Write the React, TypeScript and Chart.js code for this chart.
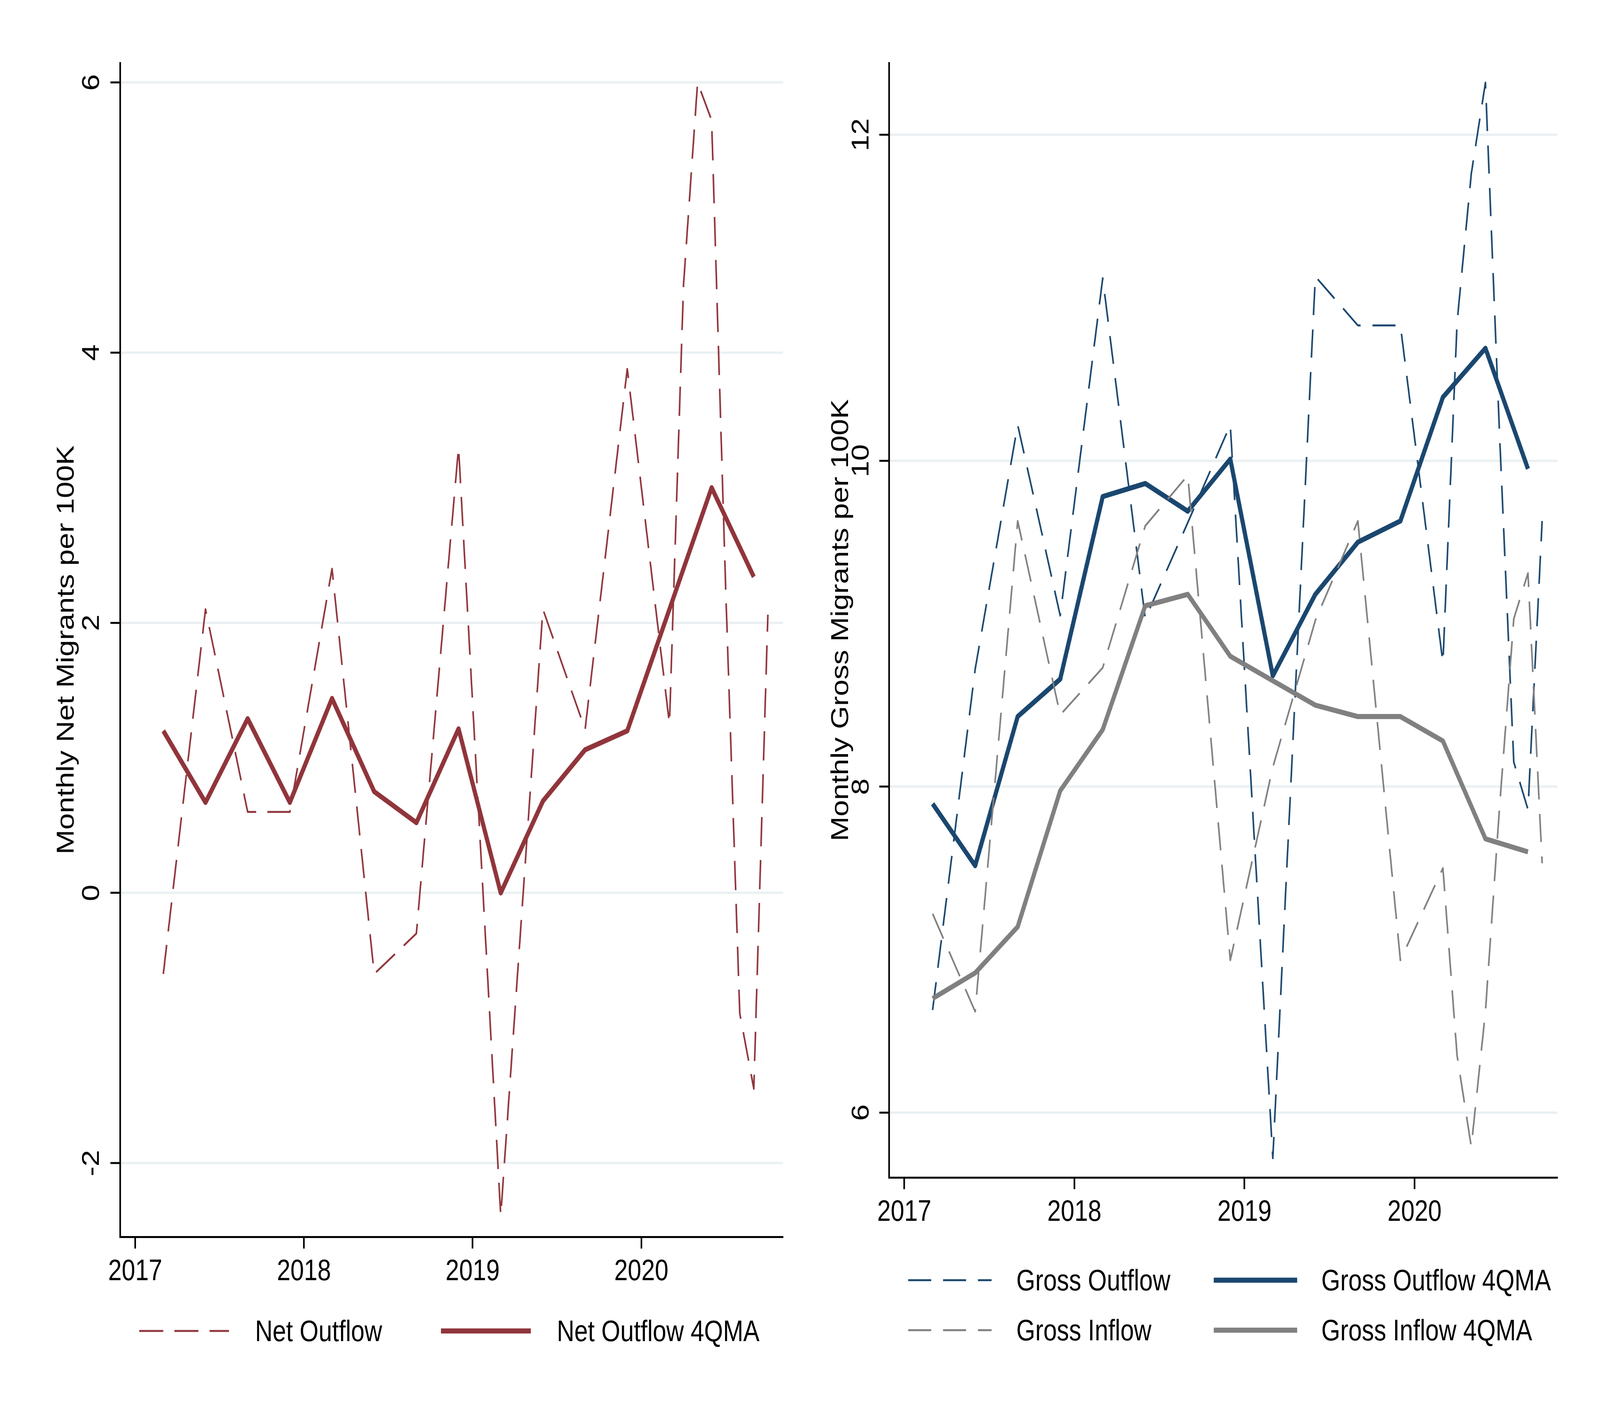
import React, { useEffect, useRef, useState } from 'react';
import { Chart, registerables } from 'chart.js';

Chart.register(...registerables);

// x positions are months since Jan 2017 (quarter ends, then monthly in 2020)
const obsMonths = [2, 5, 8, 11, 14, 17, 20, 23, 26, 29, 32, 35, 38, 39, 40, 41, 42, 43, 44, 45];
const maMonths = [2, 5, 8, 11, 14, 17, 20, 23, 26, 29, 32, 35, 38, 41, 44];

const yearTicks = [0, 12, 24, 36];
const yearLabels = ['2017', '2018', '2019', '2020'];

const netTicks = [-2, 0, 2, 4, 6];
const grossTicks = [6, 8, 10, 12];

const netOutflow = [-0.6, 2.1, 0.6, 0.6, 2.4, -0.6, -0.3, 3.3, -2.39, 2.1, 1.21, 3.88, 1.25, 4.5, 6.0, 5.72, 2.25, -0.89, -1.45, 2.06];
const netOutflow4qma = [1.2, 0.67, 1.29, 0.67, 1.44, 0.75, 0.52, 1.215, 0.0, 0.68, 1.06, 1.2, 2.1, 3.0, 2.34];

const grossOutflow = [6.63, 8.72, 10.22, 9.05, 11.12, 9.03, 9.62, 10.22, 5.72, 11.13, 10.83, 10.83, 8.76, 10.85, 11.76, 12.32, 10.15, 8.15, 7.86, 9.63];
const grossOutflow4qma = [7.895, 7.515, 8.43, 8.66, 9.78, 9.86, 9.69, 10.01, 8.68, 9.18, 9.5, 9.63, 10.39, 10.69, 9.95];

const grossInflow = [7.22, 6.62, 9.63, 8.44, 8.73, 9.6, 9.91, 6.935, 8.12, 9.02, 9.63, 6.935, 7.5, 6.35, 5.79, 6.62, 7.88, 9.03, 9.31, 7.53];
const grossInflow4qma = [6.7, 6.857, 7.14, 7.975, 8.35, 9.11, 9.18, 8.8, 8.65, 8.5, 8.43, 8.43, 8.28, 7.68, 7.6];

// everything is laid out on a 5000 x 3636 sheet, then the sheet is fitted to the window
const SHEET_W = 5000;
const SHEET_H = 3636;
const FONT = '"Liberation Sans", Arial, Helvetica, sans-serif';
const FONT_SIZE = 76;
const MAROON = '#90353b';
const NAVY = '#1a476f';
const GRAY = '#808080';
const GRID = '#eaf1f3';
const X_AXIS_H = 140;

interface Series {
  label: string;
  months: number[];
  values: number[];
  color: string;
  width: number;
  dash: number[];
}

interface LegendKey {
  series: number;
  sampleX: number;
  textX: number;
  y: number;
}

interface PanelProps {
  pageX: number;
  width: number;
  plotLeft: number;
  plotRight: number;
  plotTop: number;
  plotBottom: number;
  titleMid: number;
  tickPad: number;
  yMin: number;
  yMax: number;
  yTicks: number[];
  yTitle: string;
  series: Series[];
  sampleW: number;
  keys: LegendKey[];
}

const toPoints = (months: number[], values: number[]) => values.map((y, i) => ({ x: months[i], y }));

const Panel: React.FC<PanelProps> = (p) => {
  const canvasRef = useRef<HTMLCanvasElement>(null);

  useEffect(() => {
    if (!canvasRef.current) return;
    const font = { family: FONT, size: FONT_SIZE };
    const chart = new Chart(canvasRef.current, {
      type: 'line',
      data: {
        datasets: p.series.map((s, i) => ({
          label: s.label,
          data: toPoints(s.months, s.values),
          borderColor: s.color,
          backgroundColor: s.color,
          borderWidth: s.width,
          borderDash: s.dash,
          borderCapStyle: 'butt',
          borderJoinStyle: 'round',
          pointRadius: 0,
          pointHoverRadius: 0,
          tension: 0,
          fill: false,
          order: p.series.length - i,
        })),
      },
      options: {
        responsive: false,
        devicePixelRatio: 1,
        animation: false,
        events: [],
        layout: {
          padding: {
            left: 0,
            top: p.plotTop,
            right: p.width - p.plotRight,
            bottom: SHEET_H - p.plotBottom - X_AXIS_H,
          },
        },
        plugins: {
          legend: { display: false },
          tooltip: { enabled: false },
        },
        scales: {
          x: {
            type: 'linear',
            min: -1.08,
            max: 46.08,
            afterBuildTicks: (axis: any) => {
              axis.ticks = yearTicks.map((value) => ({ value }));
            },
            afterFit: (axis: any) => {
              axis.height = X_AXIS_H;
            },
            ticks: {
              callback: (_v: any, i: number) => yearLabels[i],
              autoSkip: false,
              minRotation: 0,
              maxRotation: 0,
              padding: 14,
              color: '#000',
              font,
            },
            grid: { drawOnChartArea: false, tickLength: 30, tickWidth: 5, tickColor: '#000' },
            border: { display: true, color: '#000', width: 5 },
          },
          y: {
            type: 'linear',
            min: p.yMin,
            max: p.yMax,
            afterBuildTicks: (axis: any) => {
              axis.ticks = p.yTicks.map((value) => ({ value }));
            },
            afterFit: (axis: any) => {
              axis.width = p.plotLeft;
            },
            ticks: {
              minRotation: 90,
              maxRotation: 90,
              crossAlign: 'center',
              padding: p.tickPad,
              color: '#000',
              font,
            },
            grid: { color: GRID, lineWidth: 6, tickLength: 30, tickWidth: 5, tickColor: '#000' },
            border: { display: true, color: '#000', width: 5 },
            title: {
              display: true,
              text: p.yTitle,
              color: '#000',
              font,
              padding: { top: p.titleMid - FONT_SIZE * 0.6, bottom: 0 },
            },
          },
        },
      } as any,
    });
    return () => {
      chart.destroy();
    };
  }, []);

  return (
    <>
      <canvas
        ref={canvasRef}
        width={p.width}
        height={SHEET_H}
        style={{ position: 'absolute', left: p.pageX, top: 0, width: p.width, height: SHEET_H }}
      />
      {p.keys.map((k, i) => {
        const s = p.series[k.series];
        return (
          <React.Fragment key={i}>
            <svg
              width={p.sampleW}
              height={24}
              style={{ position: 'absolute', left: k.sampleX, top: k.y - 12 }}
            >
              <line
                x1={0}
                y1={12}
                x2={p.sampleW}
                y2={12}
                stroke={s.color}
                strokeWidth={s.width}
                strokeDasharray={s.dash.length ? s.dash.join(' ') : undefined}
              />
            </svg>
            <div
              style={{
                position: 'absolute',
                left: k.textX,
                top: k.y - FONT_SIZE / 2,
                fontFamily: FONT,
                fontSize: FONT_SIZE,
                lineHeight: `${FONT_SIZE}px`,
                whiteSpace: 'nowrap',
                color: '#000',
              }}
            >
              {s.label}
            </div>
          </React.Fragment>
        );
      })}
    </>
  );
};

const netSeries: Series[] = [
  { label: 'Net Outflow', months: obsMonths, values: netOutflow, color: MAROON, width: 5, dash: [75, 35] },
  { label: 'Net Outflow 4QMA', months: maMonths, values: netOutflow4qma, color: MAROON, width: 13, dash: [] },
];

const grossSeries: Series[] = [
  { label: 'Gross Outflow', months: obsMonths, values: grossOutflow, color: NAVY, width: 5, dash: [72, 37] },
  { label: 'Gross Outflow 4QMA', months: maMonths, values: grossOutflow4qma, color: NAVY, width: 13, dash: [] },
  { label: 'Gross Inflow', months: obsMonths, values: grossInflow, color: GRAY, width: 5, dash: [72, 37] },
  { label: 'Gross Inflow 4QMA', months: maMonths, values: grossInflow4qma, color: GRAY, width: 13, dash: [] },
];

const App: React.FC = () => {
  // the browser may be narrower than the sheet, so fit the sheet to it
  const [fit] = useState(() => ({
    sx: Math.min(1, (window.innerWidth || SHEET_W) / SHEET_W),
    sy: Math.min(1, (window.innerHeight || SHEET_H) / SHEET_H),
  }));

  return (
    <div style={{ position: 'absolute', left: 0, top: 0, width: SHEET_W * fit.sx, height: SHEET_H * fit.sy, overflow: 'hidden', background: '#fff' }}>
      <div
        style={{
          position: 'absolute',
          left: 0,
          top: 0,
          width: SHEET_W,
          height: SHEET_H,
          background: '#fff',
          transform: `scale(${fit.sx}, ${fit.sy})`,
          transformOrigin: '0 0',
        }}
      >
        <Panel
          pageX={0}
          width={2550}
          plotLeft={375}
          plotRight={2447}
          plotTop={161}
          plotBottom={3167}
          titleMid={209}
          tickPad={23}
          yMin={-2.546}
          yMax={6.145}
          yTicks={netTicks}
          yTitle="Monthly Net Migrants per 100K"
          series={netSeries}
          sampleW={281}
          keys={[
            { series: 0, sampleX: 435, textX: 797, y: 3408 },
            { series: 1, sampleX: 1378, textX: 1740, y: 3408 },
          ]}
        />
        <Panel
          pageX={2550}
          width={2450}
          plotLeft={228}
          plotRight={2317}
          plotTop={161}
          plotBottom={3015}
          titleMid={79}
          tickPad={13}
          yMin={5.602}
          yMax={12.441}
          yTicks={grossTicks}
          yTitle="Monthly Gross Migrants per 100K"
          series={grossSeries}
          sampleW={261}
          keys={[
            { series: 0, sampleX: 2838, textX: 3176, y: 3278 },
            { series: 1, sampleX: 3793, textX: 4129, y: 3278 },
            { series: 2, sampleX: 2838, textX: 3176, y: 3406 },
            { series: 3, sampleX: 3793, textX: 4129, y: 3406 },
          ]}
        />
      </div>
    </div>
  );
};

export default App;
